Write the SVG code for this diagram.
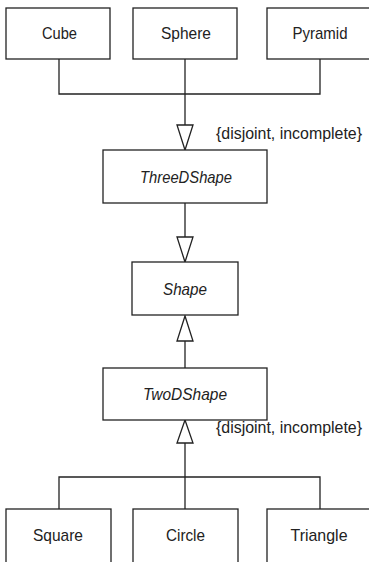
<svg xmlns="http://www.w3.org/2000/svg" width="369" height="562" viewBox="0 0 369 562">
<style>
.box{fill:#fff;stroke:#222;stroke-width:1.3}
.lbl{font-family:"Liberation Sans",Arial,sans-serif;font-size:17px;fill:#222;text-anchor:middle}
.it{font-style:italic}
.note{font-family:"Liberation Sans",Arial,sans-serif;font-size:16px;fill:#222}
.ln{fill:none;stroke:#222;stroke-width:1.3}
.tri{fill:#fff;stroke:#222;stroke-width:1.3;stroke-linejoin:miter}
</style>
<rect width="369" height="562" fill="#fff"/>
<g id="connectors">
<polyline class="ln" points="59,59 59,94 320,94 320,59"/>
<line class="ln" x1="185" y1="59" x2="185" y2="125"/>
<polygon class="tri" points="177,125 193,125 185,150"/>
<line class="ln" x1="185" y1="203" x2="185" y2="237"/>
<polygon class="tri" points="177,237 193,237 185,262"/>
<line class="ln" x1="185" y1="341" x2="185" y2="368"/>
<polygon class="tri" points="177,341 193,341 185,316"/>
<line class="ln" x1="185" y1="443" x2="185" y2="509"/>
<polygon class="tri" points="177,443 193,443 185,420"/>
<polyline class="ln" points="59,509 59,477 320,477 320,509"/>
<text class="note" x="216" y="138.5" textLength="146" lengthAdjust="spacingAndGlyphs">{disjoint, incomplete}</text>
<text class="note" x="216" y="433" textLength="146" lengthAdjust="spacingAndGlyphs">{disjoint, incomplete}</text>
</g>
<g id="Cube"><rect class="box" x="6" y="8" width="104" height="51"/><text class="lbl" x="59.5" y="39" textLength="35" lengthAdjust="spacingAndGlyphs">Cube</text></g>
<g id="Sphere"><rect class="box" x="133" y="8" width="104" height="51"/><text class="lbl" x="186" y="39" textLength="50" lengthAdjust="spacingAndGlyphs">Sphere</text></g>
<g id="Pyramid"><rect class="box" x="267" y="8" width="106" height="51"/><text class="lbl" x="320" y="39" textLength="55" lengthAdjust="spacingAndGlyphs">Pyramid</text></g>
<g id="ThreeDShape"><rect class="box" x="103" y="150" width="164" height="53"/><text class="lbl it" x="186" y="182.5" textLength="92" lengthAdjust="spacingAndGlyphs">ThreeDShape</text></g>
<g id="Shape"><rect class="box" x="132" y="262" width="106" height="53"/><text class="lbl it" x="185" y="294.5" textLength="44" lengthAdjust="spacingAndGlyphs">Shape</text></g>
<g id="TwoDShape"><rect class="box" x="103" y="368" width="164" height="52"/><text class="lbl it" x="185" y="399.5" textLength="84" lengthAdjust="spacingAndGlyphs">TwoDShape</text></g>
<g id="Square"><rect class="box" x="6" y="509" width="105" height="56"/><text class="lbl" x="58" y="541" textLength="50" lengthAdjust="spacingAndGlyphs">Square</text></g>
<g id="Circle"><rect class="box" x="133" y="509" width="105" height="56"/><text class="lbl" x="185.5" y="541" textLength="39" lengthAdjust="spacingAndGlyphs">Circle</text></g>
<g id="Triangle"><rect class="box" x="267" y="509" width="106" height="56"/><text class="lbl" x="319" y="541" textLength="57" lengthAdjust="spacingAndGlyphs">Triangle</text></g>
</svg>
